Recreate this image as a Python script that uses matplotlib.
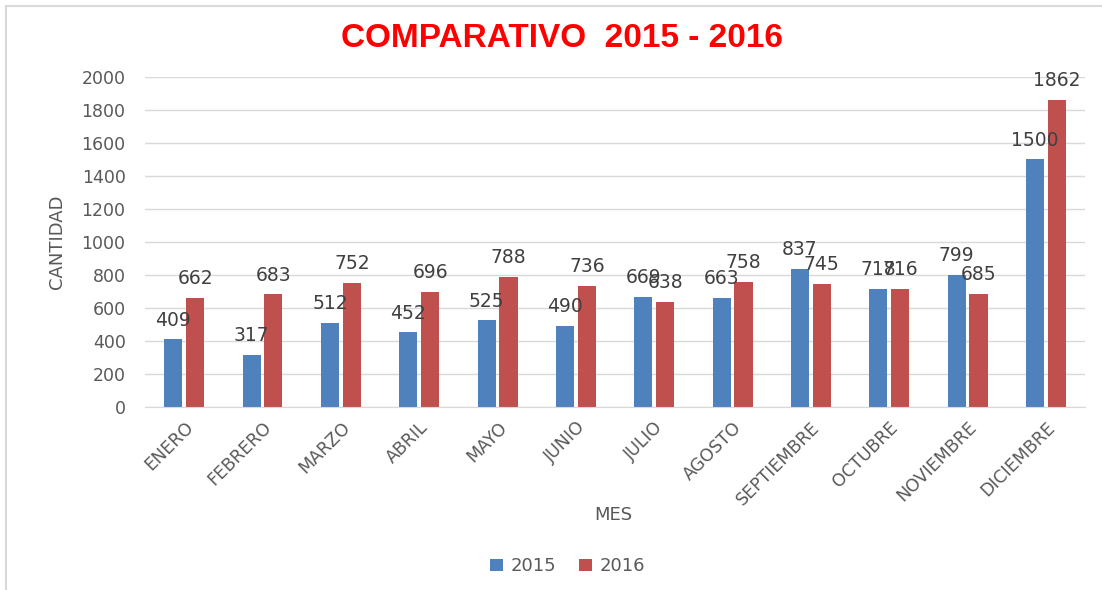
import numpy as np
import matplotlib
matplotlib.use('Agg')
import matplotlib.pyplot as plt
from matplotlib.lines import Line2D

plt.rcParams['font.family'] = ['DejaVu Sans']

meses = ['ENERO', 'FEBRERO', 'MARZO', 'ABRIL', 'MAYO', 'JUNIO', 'JULIO',
         'AGOSTO', 'SEPTIEMBRE', 'OCTUBRE', 'NOVIEMBRE', 'DICIEMBRE']
v2015 = [409, 317, 512, 452, 525, 490, 669, 663, 837, 718, 799, 1500]
v2016 = [662, 683, 752, 696, 788, 736, 638, 758, 745, 716, 685, 1862]
yticks = [0, 200, 400, 600, 800, 1000, 1200, 1400, 1600, 1800, 2000]

c15 = '#4f81bd'
c16 = '#c0504d'
txt = '#595959'

fig = plt.figure(figsize=(11.02, 5.9), dpi=100)
fig.patch.set_facecolor('white')
ax = fig.add_axes([0.1316, 0.3102, 0.853, 0.5593])

x = np.arange(len(meses))
w = 0.23
gap = 0.025
b1 = ax.bar(x - w / 2 - gap, v2015, w, color=c15, label='2015', zorder=2)
b2 = ax.bar(x + w / 2 + gap, v2016, w, color=c16, label='2016', zorder=2)

for bars, vals in ((b1, v2015), (b2, v2016)):
    for r, v in zip(bars, vals):
        ax.annotate(str(v), (r.get_x() + r.get_width() / 2, v),
                    xytext=(0, 7), textcoords='offset points',
                    ha='center', va='bottom', fontsize=13.5, color='#404040')

ax.set_xlim(-0.5, len(meses) - 0.5)
ax.set_ylim(0, 2000)
ax.set_yticks(yticks)
ax.set_yticklabels([str(t) for t in yticks], fontsize=12.5, color=txt)
ax.set_xticks(x)
ax.set_xticklabels(meses, rotation=45, ha='right', rotation_mode='anchor',
                   fontsize=12.5, color=txt)
ax.tick_params(axis='y', length=0, pad=14)
ax.tick_params(axis='x', length=0, pad=8)
ax.grid(axis='y', color='#d9d9d9', linewidth=1, zorder=0)
for s in ['top', 'right', 'left']:
    ax.spines[s].set_visible(False)
ax.spines['bottom'].set_color('#d9d9d9')

ax.set_ylabel('CANTIDAD', fontsize=13, color=txt)
ax.yaxis.set_label_coords(-0.084, 0.5)
ax.set_xlabel('MES', fontsize=13, color=txt)
ax.xaxis.set_label_coords(0.498, -0.3)

fig.text(0.51, 0.935, 'COMPARATIVO  2015 - 2016', ha='center', va='center',
         fontsize=24, fontweight='bold', color='#ff0000',
         family='Liberation Sans')

fig.legend(handles=[b1, b2], labels=['2015', '2016'], loc='center',
           bbox_to_anchor=(0.515, 0.04), ncol=2, frameon=False,
           fontsize=13, labelcolor=txt, handlelength=0.7, handleheight=0.7,
           columnspacing=1.3, handletextpad=0.4)

# outer chart border
fig.add_artist(Line2D([0.005, 0.005], [0, 0.99], transform=fig.transFigure,
                      color='#d9d9d9', linewidth=1.5))
fig.add_artist(Line2D([0.005, 1.0], [0.99, 0.99], transform=fig.transFigure,
                      color='#d9d9d9', linewidth=1.5))

fig.savefig('out.png', dpi=100, facecolor='white')
